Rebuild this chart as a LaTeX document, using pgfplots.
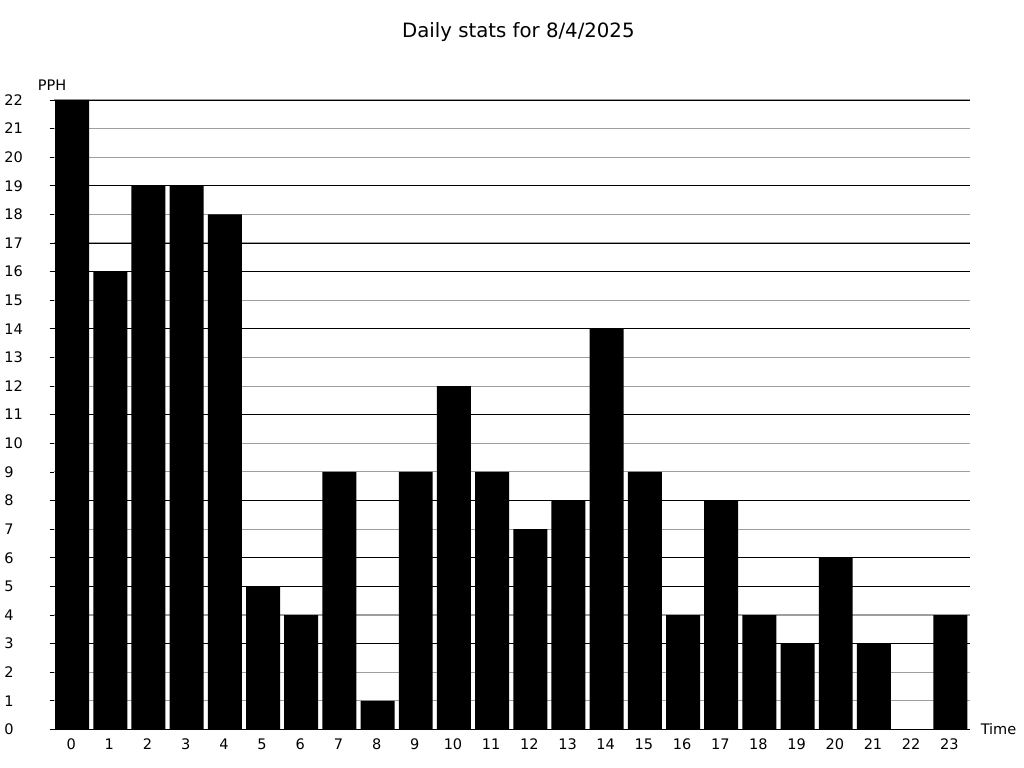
\documentclass[border=0pt]{standalone}
\usepackage{pgfplots}
\pgfplotsset{compat=1.18}
\usepackage{fontspec}
\setmainfont{DejaVu Sans}
\begin{document}
\begin{tikzpicture}[x=0.75pt,y=0.75pt]
\begin{axis}[
  at={(0,0)}, anchor=south west,
  scale only axis,
  width=687.75pt, height=472.5pt,
  xmin=-0.5, xmax=23.5, ymin=0, ymax=22,
  ybar, bar width=25.5pt, bar shift=-0.5pt,
  xtick={0,...,23},
  ytick={0,...,22},
  axis x line*=bottom, axis y line*=left,
  y axis line style={draw=none},
  x axis line style={-, black, line width=0.8pt},
  xtick style={draw=none},
  ytick style={black, line width=0.6pt},
  tick align=outside, major tick length=3pt,
  ymajorgrids, major grid style={color=black!38, line width=0.8pt},
  extra y ticks={3,5,6,8,11,14,16,17,19,22},
  extra y tick labels={},
  extra y tick style={grid=major, major grid style={black, line width=0.6pt}},
  yticklabel style={anchor=west, xshift=-37.5pt},
  ticklabel style={font=\fontsize{10.9}{13}\selectfont},
  /pgf/number format/assume math mode=true,
  xticklabel style={yshift=-0.5pt, xshift=-1.2pt},
  clip=false,
]
\addplot[fill=black, draw=none] coordinates {
(0,22) (1,16) (2,19) (3,19) (4,18) (5,5) (6,4) (7,9) (8,1) (9,9) (10,12) (11,9)
(12,7) (13,8) (14,14) (15,9) (16,4) (17,8) (18,4) (19,3) (20,6) (21,3) (22,0) (23,4)};
\end{axis}
\node[font=\fontsize{14.8}{17}\selectfont] at (465,698) {Daily stats for 8/4/2025};
\node[font=\fontsize{10.9}{13}\selectfont] at (-1.5,645) {PPH};
\node[font=\fontsize{10.9}{13}\selectfont] at (945.5,0) {Time};
\useasboundingbox (-53,-38) rectangle (971,730);
\end{tikzpicture}
\end{document}
